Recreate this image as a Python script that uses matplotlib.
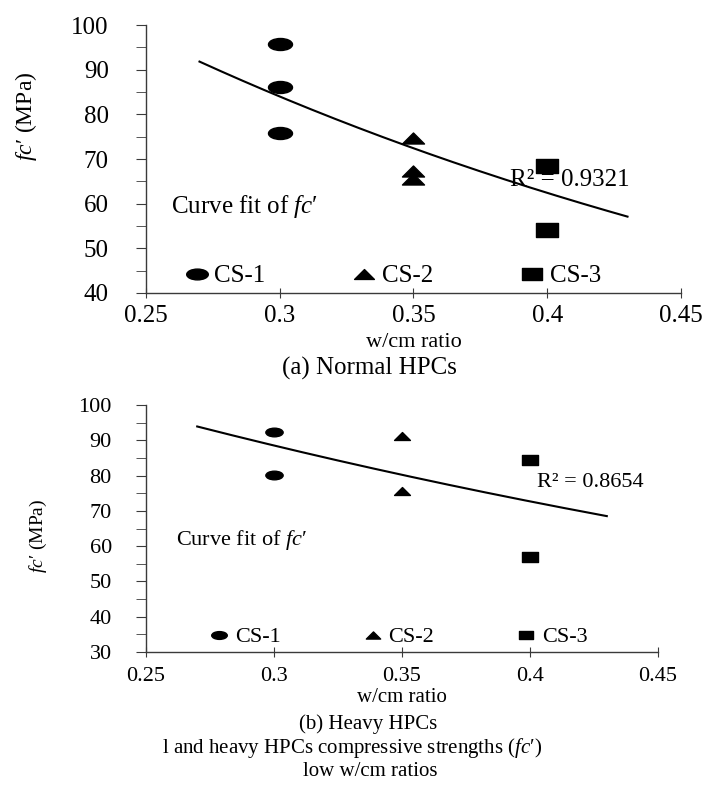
import numpy as np
import matplotlib
matplotlib.use("Agg")
import matplotlib.pyplot as plt
from matplotlib.path import Path
from matplotlib.lines import Line2D

plt.rcParams['font.family'] = ['Liberation Serif', 'DejaVu Serif']
plt.rcParams['mathtext.fontset'] = 'custom'
plt.rcParams['mathtext.rm'] = 'Liberation Serif'
plt.rcParams['mathtext.it'] = 'Liberation Serif:italic'

# ---------------- data ----------------
# (a) Normal HPCs
a_cs1_x = [0.30, 0.30, 0.30]
a_cs1_y = [95.7, 86.2, 75.9]
a_cs2_x = [0.35, 0.35, 0.35]
a_cs2_y = [74.7, 67.4, 65.6]
a_cs3_x = [0.40, 0.40]
a_cs3_y = [68.4, 54.1]
a_fit_coef = [204.6, -2.968]      # fc' = a * exp(b * w/cm)
a_r2 = "R² = 0.9321"

# (b) Heavy HPCs
b_cs1_x = [0.30, 0.30]
b_cs1_y = [92.3, 80.2]
b_cs2_x = [0.35, 0.35]
b_cs2_y = [91.3, 75.6]
b_cs3_x = [0.40, 0.40]
b_cs3_y = [84.4, 57.0]
b_fit_coef = [159.9, -1.971]
b_r2 = "R² = 0.8654"

fit_range = [0.27, 0.43]
series_names = ["CS-1", "CS-2", "CS-3"]
x_ticks = [0.25, 0.30, 0.35, 0.40, 0.45]
x_ticklabels = ["0.25", "0.3", "0.35", "0.4", "0.45"]

# ---------------- stretched marker shapes ----------------
circ = Path.unit_circle()
ellipse = Path(circ.vertices * np.array([1.0, 0.5]), circ.codes)
tri = Path([(-1, -0.5), (1, -0.5), (0, 0.5), (-1, -0.5)],
           [Path.MOVETO, Path.LINETO, Path.LINETO, Path.CLOSEPOLY])
sq = Path([(-1, -0.6), (1, -0.6), (1, 0.6), (-1, 0.6), (-1, -0.6)],
          [Path.MOVETO, Path.LINETO, Path.LINETO, Path.LINETO, Path.CLOSEPOLY])
markers = [ellipse, tri, sq]

W, H = 717, 785
fig = plt.figure(figsize=(W / 100, H / 100), dpi=100)

spine_c = '#3a3a3a'
FC = r"$\mathit{fc}$′"


def setup(ax, ylim, fs, ms_scale, series, coef, r2, cf_pos, r2_pos,
          ylab_fs, ylab_pos, leg_pos, xlab_y, colsp, xlab_fs, xpad):
    xs = np.linspace(fit_range[0], fit_range[1], 200)
    ax.plot(xs, coef[0] * np.exp(coef[1] * xs), color='black', lw=1.5, zorder=2)
    sizes = [24, 22, 23]
    handles = []
    for (sx, sy), m, name, s in zip(series, markers, series_names, sizes):
        ax.plot(sx, sy, linestyle='none', marker=m, color='black',
                markersize=s * 0.72 * ms_scale, zorder=3)
        handles.append(Line2D([], [], linestyle='none', marker=m, color='black',
                              markersize=s * 0.72 * ms_scale * 0.9, label=name))
    ax.set_xlim(0.25, 0.45)
    ax.set_ylim(*ylim)
    ax.set_xticks(x_ticks)
    ax.set_xticklabels(x_ticklabels)
    ax.set_yticks(np.arange(ylim[0], ylim[1] + 1, 10))
    ax.set_yticks(np.arange(ylim[0], ylim[1] + 1, 5), minor=True)
    for s in ['top', 'right']:
        ax.spines[s].set_visible(False)
    for s in ['left', 'bottom']:
        ax.spines[s].set_color(spine_c)
        ax.spines[s].set_linewidth(1.0)
    ax.tick_params(axis='y', which='both', direction='out', length=7,
                   color=spine_c, labelsize=fs, pad=fs * 1.1)
    ax.tick_params(axis='x', which='both', direction='inout', length=7,
                   color=spine_c, labelsize=fs, pad=xpad)
    ax.set_xlabel('w/cm ratio', fontsize=xlab_fs, va='center')
    ax.xaxis.set_label_coords(0.5, xlab_y)
    ax.set_ylabel(FC + " (MPa)", fontsize=ylab_fs)
    ax.yaxis.set_label_coords(*ylab_pos)
    ax.text(cf_pos[0], cf_pos[1], "Curve fit of " + FC, fontsize=fs,
            va='center', ha='left')
    ax.text(r2_pos[0], r2_pos[1], r2, fontsize=fs, va='center', ha='left',
            clip_on=False)
    ax.legend(handles=handles, ncol=3, loc='center', bbox_to_anchor=leg_pos,
              frameon=False, fontsize=fs, handlelength=0.8, handletextpad=0.3,
              columnspacing=colsp, borderaxespad=0)


# top panel
ax1 = fig.add_axes([146 / W, 1 - 293 / H, (681 - 146) / W, (293 - 25) / H])
setup(ax1, (40, 100), 18, 1.0,
      [(a_cs1_x, a_cs1_y), (a_cs2_x, a_cs2_y), (a_cs3_x, a_cs3_y)],
      a_fit_coef, a_r2, (0.2593, 59.3), (0.386, 65.3),
      17, (-0.20, 0.66), (0.463, 0.063), -(343 - 293) / 268, 3.56, 16, 5)

# bottom panel
ax2 = fig.add_axes([146 / W, 1 - 652 / H, (658 - 146) / W, (652 - 405) / H])
setup(ax2, (30, 100), 16, 0.72,
      [(b_cs1_x, b_cs1_y), (b_cs2_x, b_cs2_y), (b_cs3_x, b_cs3_y)],
      b_fit_coef, b_r2, (0.2617, 61.7), (0.4027, 77.9),
      14, (-0.19, 0.47), (0.494, 0.06), -(698 - 652) / 247, 3.75, 15, 7)

fig.text(369 / W, 1 - 368 / H, '(a) Normal HPCs', fontsize=18, ha='center', va='center')
fig.text(368 / W, 1 - 724 / H, '(b) Heavy HPCs', fontsize=15, ha='center', va='center')
fig.text(352 / W, 1 - 748 / H, "l and heavy HPCs compressive strengths (" + FC + ")",
         fontsize=15, ha='center', va='center')
fig.text(370 / W, 1 - 772 / H, 'low w/cm ratios', fontsize=15, ha='center', va='center')

fig.savefig('out.png', dpi=100, facecolor='white')
